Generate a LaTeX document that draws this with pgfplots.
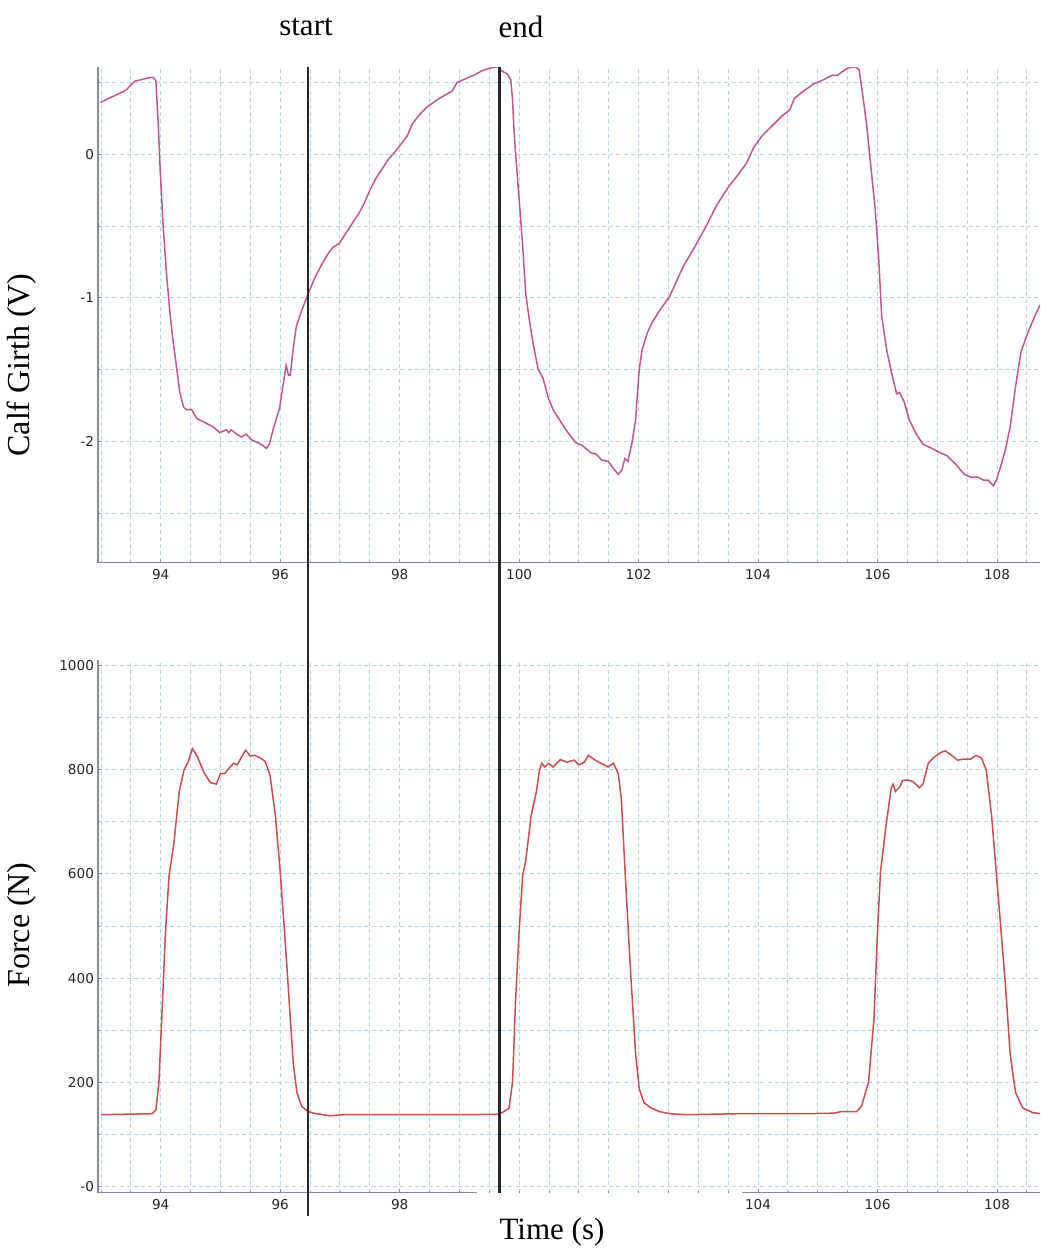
\documentclass[border=0pt]{standalone}
\usepackage{pgfplots}
\pgfplotsset{compat=1.18}
\usepackage{fontspec}
\setmainfont{Liberation Serif}
\newfontfamily\tickfont{DejaVu Sans}
\definecolor{girth}{RGB}{194,86,146}
\definecolor{force}{RGB}{206,76,76}
\definecolor{gridblue}{RGB}{178,214,232}
\definecolor{axgray}{RGB}{130,138,155}

\pgfplotstableread{
x y
92.99 0.36
93.13 0.39
93.29 0.42
93.43 0.45
93.49 0.48
93.57 0.51
93.68 0.52
93.82 0.535
93.88 0.535
93.92 0.51
93.93 0.43
93.96 0.20
93.99 -0.10
94.04 -0.50
94.10 -0.85
94.16 -1.13
94.21 -1.31
94.27 -1.50
94.32 -1.66
94.38 -1.76
94.43 -1.78
94.52 -1.78
94.60 -1.84
94.74 -1.87
94.88 -1.90
94.99 -1.94
95.04 -1.93
95.10 -1.92
95.14 -1.94
95.18 -1.92
95.27 -1.95
95.35 -1.97
95.43 -1.95
95.52 -1.99
95.63 -2.01
95.71 -2.03
95.77 -2.05
95.82 -2.02
95.88 -1.92
95.93 -1.85
95.99 -1.77
96.04 -1.63
96.10 -1.47
96.14 -1.54
96.17 -1.54
96.21 -1.38
96.27 -1.20
96.35 -1.10
96.46 -0.98
96.57 -0.87
96.68 -0.78
96.79 -0.70
96.88 -0.65
96.99 -0.62
97.10 -0.55
97.21 -0.48
97.32 -0.41
97.41 -0.34
97.49 -0.26
97.60 -0.17
97.71 -0.10
97.82 -0.03
97.93 0.02
98.04 0.08
98.13 0.13
98.21 0.21
98.32 0.27
98.46 0.33
98.63 0.38
98.79 0.42
98.88 0.44
98.96 0.50
99.07 0.52
99.24 0.55
99.37 0.58
99.51 0.60
99.65 0.61
99.71 0.58
99.80 0.56
99.86 0.52
99.89 0.38
99.91 0.20
99.94 0.01
100.00 -0.31
100.06 -0.64
100.11 -0.97
100.17 -1.15
100.23 -1.31
100.32 -1.50
100.40 -1.56
100.49 -1.70
100.57 -1.78
100.69 -1.86
100.80 -1.93
100.95 -2.01
101.06 -2.03
101.20 -2.08
101.29 -2.09
101.38 -2.13
101.49 -2.14
101.58 -2.19
101.66 -2.23
101.72 -2.20
101.77 -2.12
101.82 -2.14
101.89 -2.01
101.95 -1.85
102.01 -1.50
102.06 -1.36
102.15 -1.24
102.23 -1.17
102.35 -1.09
102.52 -0.99
102.64 -0.88
102.75 -0.78
102.92 -0.66
103.12 -0.51
103.30 -0.36
103.50 -0.23
103.67 -0.14
103.81 -0.06
103.93 0.05
104.07 0.13
104.24 0.20
104.41 0.27
104.53 0.31
104.61 0.39
104.76 0.44
104.93 0.49
105.10 0.52
105.24 0.55
105.33 0.55
105.39 0.57
105.50 0.60
105.62 0.61
105.69 0.59
105.73 0.48
105.82 0.20
105.87 -0.01
105.96 -0.38
106.02 -0.73
106.07 -1.13
106.16 -1.38
106.25 -1.55
106.32 -1.67
106.37 -1.66
106.45 -1.73
106.53 -1.85
106.65 -1.95
106.76 -2.02
106.91 -2.05
107.05 -2.08
107.16 -2.10
107.31 -2.16
107.45 -2.23
107.56 -2.25
107.68 -2.25
107.77 -2.27
107.85 -2.27
107.94 -2.31
107.99 -2.27
108.08 -2.15
108.14 -2.06
108.22 -1.90
108.31 -1.62
108.40 -1.38
108.51 -1.25
108.62 -1.14
108.72 -1.05
}\girthdata

\pgfplotstableread{
x y
93.00 138
93.86 140
93.92 148
93.97 201
94.03 356
94.08 490
94.14 597
94.22 658
94.31 758
94.39 799
94.46 815
94.53 840
94.61 826
94.72 795
94.83 775
94.93 772
95.00 792
95.07 792
95.14 802
95.22 812
95.28 809
95.33 819
95.42 837
95.50 826
95.58 827
95.67 822
95.75 815
95.83 789
95.92 711
96.00 604
96.08 477
96.17 322
96.22 235
96.28 181
96.36 154
96.47 144
96.56 141
96.83 136
97.06 138
97.94 138
99.06 138
99.67 139
99.83 150
99.89 201
99.94 356
100.00 490
100.06 597
100.11 624
100.20 711
100.29 758
100.34 799
100.38 812
100.43 805
100.49 812
100.57 805
100.69 819
100.80 814
100.92 818
101.00 809
101.09 814
101.16 827
101.26 819
101.38 811
101.49 805
101.58 812
101.66 792
101.71 745
101.78 591
101.86 423
101.95 255
102.01 188
102.09 161
102.21 151
102.35 144
102.52 140
102.81 138
103.67 140
104.81 140
105.27 141
105.39 144
105.65 144
105.73 154
105.85 201
105.94 322
106.00 490
106.05 604
106.14 691
106.23 765
106.26 772
106.30 758
106.37 766
106.42 779
106.50 780
106.59 777
106.65 771
106.70 765
106.76 772
106.85 812
106.93 822
107.05 832
107.13 836
107.22 829
107.34 818
107.45 820
107.56 820
107.65 827
107.74 822
107.82 799
107.91 711
108.02 557
108.14 389
108.22 255
108.31 181
108.43 151
108.60 142
108.72 140
}\forcedata

\pgfplotsset{
 myax/.style={
  scale only axis, width=471pt,
  xmin=92.95, xmax=108.72,
  axis x line*=bottom, axis y line*=left,
  axis line style={axgray, line width=0.6pt, -},
  grid=minor,
  minor grid style={gridblue, dash pattern=on 2pt off 1.6pt, line width=0.45pt},
  minor xtick={93,93.5,...,108.5},
  major tick length=2pt, minor tick length=1pt,
  tick style={axgray, line width=0.4pt},
  ticklabel style={font=\tickfont\fontsize{6.8}{8}\selectfont, text=black!85},
  yticklabel style={xshift=1.5pt},
  /pgf/number format/assume math mode=true,
  clip=true,
 }
}

\begin{document}
\begin{tikzpicture}
\useasboundingbox (0,0) rectangle (520pt,624pt);
\begin{axis}[myax, at={(49pt,342.65pt)}, anchor=south west, height=247.7pt,
  ymin=-2.846, ymax=0.606,
  xtick={94,96,98,100,102,104,106,108},
  xticklabels={94,96,98,100,102,104,106,108},
  ytick={-2,-1,0}, yticklabels={-2,-1,0},
  minor ytick={-2.5,-2,-1.5,-1,-0.5,0,0.5}]
\addplot[girth, line width=0.75pt] table[x=x,y=y] {\girthdata};
\coordinate (sTop) at (axis cs:96.47,0.606);
\coordinate (eTop) at (axis cs:99.67,0.606);
\end{axis}
\begin{axis}[myax, at={(49pt,27.65pt)}, anchor=south west, height=266.35pt,
  ymin=-11.5, ymax=1010,
  xtick={94,96,98,104,106,108},
  xticklabels={94,96,98,104,106,108},
  ytick={0,200,400,600,800,1000},
  yticklabels={-0,200,400,600,800,1000},
  minor ytick={0,100,...,1000},
  x axis line style={draw=none}]
\addplot[force, line width=0.75pt] table[x=x,y=y] {\forcedata};
\coordinate (sBot) at (axis cs:96.47,-57);
\coordinate (eBot) at (axis cs:99.67,-11.5);
\coordinate (a1) at (axis cs:92.95,-11.5);
\coordinate (a2) at (axis cs:99.3,-11.5);
\coordinate (a3) at (axis cs:103.73,-11.5);
\coordinate (a4) at (axis cs:108.72,-11.5);
\end{axis}
\draw[axgray, line width=0.6pt] (a1) -- (a2);
\draw[axgray, line width=0.6pt] (a3) -- (a4);
\draw[black!85, line width=1.1pt] (sTop) -- (sBot);
\draw[black!85, line width=1.1pt] (eTop) -- (eBot);
\node[font=\fontsize{15.5}{18}\selectfont] at (153pt,610.5pt) {start};
\node[font=\fontsize{15.5}{18}\selectfont] at (260.5pt,610.5pt) {end};
\node[font=\fontsize{15.5}{18}\selectfont] at (276pt,8pt) {Time (s)};
\node[font=\fontsize{16}{18}\selectfont, rotate=90] at (11pt,441.5pt) {Calf Girth (V)};
\node[font=\fontsize{16}{18}\selectfont, rotate=90] at (11pt,161.5pt) {Force (N)};
\end{tikzpicture}
\end{document}
